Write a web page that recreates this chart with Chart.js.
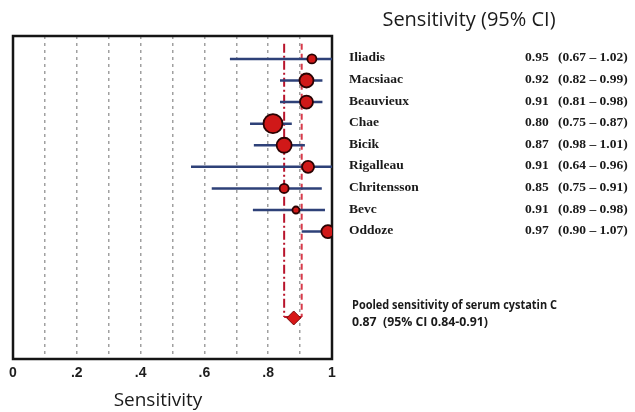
<!DOCTYPE html>
<html><head><meta charset="utf-8">
<script src="https://cdn.jsdelivr.net/npm/chart.js@4.4.1/dist/chart.umd.min.js"></script>
<style>html,body{margin:0;padding:0;background:#fff}#wrap{width:635px;height:412px;position:relative}</style>
</head><body><div id="wrap"><canvas id="c" width="635" height="412"></canvas></div>
<script>
// ---- data ----
const studies = ['Iliadis','Macsiaac','Beauvieux','Chae','Bicik','Rigalleau','Chritensson','Bevc','Oddoze'];
const plotSens = [0.937,0.92,0.92,0.815,0.85,0.925,0.85,0.887,0.987];
const ciLow    = [0.68,0.837,0.837,0.743,0.755,0.558,0.623,0.752,0.905];
const ciHigh   = [1.02,0.97,0.97,0.874,0.915,1.02,0.968,0.978,1.05];
const weights  = [4.5,7,6.5,9.5,7.5,6,4.5,3.5,6.5];
const tableSens = ['0.95','0.92','0.91','0.80','0.87','0.91','0.85','0.91','0.97'];
const tableCI   = ['(0.67 \u2013 1.02)','(0.82 \u2013 0.99)','(0.81 \u2013 0.98)','(0.75 \u2013 0.87)','(0.98 \u2013 1.01)','(0.64 \u2013 0.96)','(0.75 \u2013 0.91)','(0.89 \u2013 0.98)','(0.90 \u2013 1.07)'];
const pooledSens = 0.88;
const pooledLow = 0.85;
const pooledHigh = 0.905;
const pooledRow = 13;
const xTickLabels = {0:'0',2:'.2',4:'.4',6:'.6',8:'.8',10:'1'};
const titleTop = 'Sensitivity (95% CI)';
const titleX = 'Sensitivity';
const pooledText1 = 'Pooled sensitivity of serum cystatin C';
const pooledText2 = '0.87  (95% CI 0.84-0.91)';

// ---- datasets ----
const datasets = [];
datasets.push({
  label:'studies', order:0,
  data: studies.map((s,i)=>({x:plotSens[i], y:i+1})),
  pointRadius: weights, pointHoverRadius: weights,
  pointBackgroundColor:'#d01818', pointBorderColor:'#2a0303', pointBorderWidth:1.8,
  showLine:false
});
datasets.push({
  label:'pooled', order:0,
  data:[{x:pooledSens, y:pooledRow}],
  pointStyle:'rectRot', pointRadius:7, pointBackgroundColor:'#d81818',
  pointBorderColor:'#7a0a0a', pointBorderWidth:1, showLine:false
});
studies.forEach((s,i)=>{
  datasets.push({
    label:'ci'+i, order:1, showLine:true,
    data:[{x:ciLow[i], y:i+1},{x:ciHigh[i], y:i+1}],
    borderColor:'#2e4178', borderWidth:2.5, pointRadius:0
  });
});

function fitText(ctx, text, x, y, w){
  const m = ctx.measureText(text).width;
  const s = Math.min(1, w / m);
  ctx.save(); ctx.translate(x, y); ctx.scale(s, 1); ctx.fillText(text, 0, 0); ctx.restore();
}

const framePlugin = {
  id:'frame',
  beforeDatasetsDraw(chart){
    const {ctx, chartArea:a, scales:{x,y}} = chart;
    ctx.save();
    const yTop = y.getPixelForValue(0.3), yBot = y.getPixelForValue(pooledRow)-1;
    const xl = x.getPixelForValue(pooledLow), xr = x.getPixelForValue(pooledHigh);
    ctx.lineWidth = 2;
    ctx.strokeStyle = '#b8142c';
    ctx.setLineDash([9,3,2,3]);
    ctx.beginPath(); ctx.moveTo(xl,yTop); ctx.lineTo(xl,yBot); ctx.stroke();
    ctx.strokeStyle = '#d83a4a';
    ctx.setLineDash([6,4]);
    ctx.beginPath(); ctx.moveTo(xr,yTop); ctx.lineTo(xr,yBot); ctx.stroke();
    ctx.setLineDash([]);
    ctx.strokeStyle = '#c01828';
    ctx.beginPath(); ctx.moveTo(xl,yBot); ctx.lineTo(xr,yBot); ctx.stroke();
    ctx.lineWidth = 2.5; ctx.strokeStyle = '#151515';
    ctx.strokeRect(a.left, a.top, a.right-a.left, a.bottom-a.top);
    ctx.restore();
  },
  afterDraw(chart){
    const {ctx, scales:{y}} = chart;
    ctx.save();
    ctx.fillStyle = '#1a1a1a';
    ctx.textBaseline = 'middle';
    ctx.font = '20px "Open Sans"';
    ctx.textAlign = 'center';
    ctx.fillText(titleTop, 469, 20);
    ctx.font = '19px "Open Sans"';
    ctx.fillText(titleX, 158, 401);
    ctx.textAlign = 'left';
    ctx.font = 'bold 13.5px "Liberation Serif"';
    studies.forEach((s,i)=>{
      const py = y.getPixelForValue(i+1) - 1;
      ctx.fillText(s, 349, py);
      ctx.fillText(tableSens[i], 525, py);
      ctx.fillText(tableCI[i], 558, py);
    });
    ctx.font = 'bold 13px "Open Sans"';
    fitText(ctx, pooledText1, 352, 305, 205);
    fitText(ctx, pooledText2, 352, 322, 136);
    ctx.restore();
  }
};

new Chart(document.getElementById('c'), {
  type:'scatter',
  data:{datasets},
  options:{
    responsive:false, animation:false, devicePixelRatio:1,
    layout:{padding:{left:13,right:303,top:36,bottom:0}},
    plugins:{legend:{display:false}, tooltip:{enabled:false}},
    scales:{
      x:{
        type:'linear', min:0, max:1,
        afterFit(axis){ axis.height = 53; },
        ticks:{
          stepSize:0.1, autoSkip:false, maxRotation:0, padding:6,
          color:'#1e1e1e', font:{family:'"Liberation Sans"', size:14, weight:'bold'},
          callback:(v)=>{ const k=Math.round(v*10); return xTickLabels[k] !== undefined ? xTickLabels[k] : ''; }
        },
        grid:{
          drawTicks:false, lineWidth:1.5,
          color:(c)=>{ const k=Math.round(c.tick.value*10); return (k===0||k===10)?'rgba(0,0,0,0)':'#a0a0a0'; }
        },
        border:{display:false, dash:[3,4]}
      },
      y:{type:'linear', min:-0.06, max:14.9, reverse:true, display:false}
    }
  },
  plugins:[framePlugin]
});
</script>
</body></html>
